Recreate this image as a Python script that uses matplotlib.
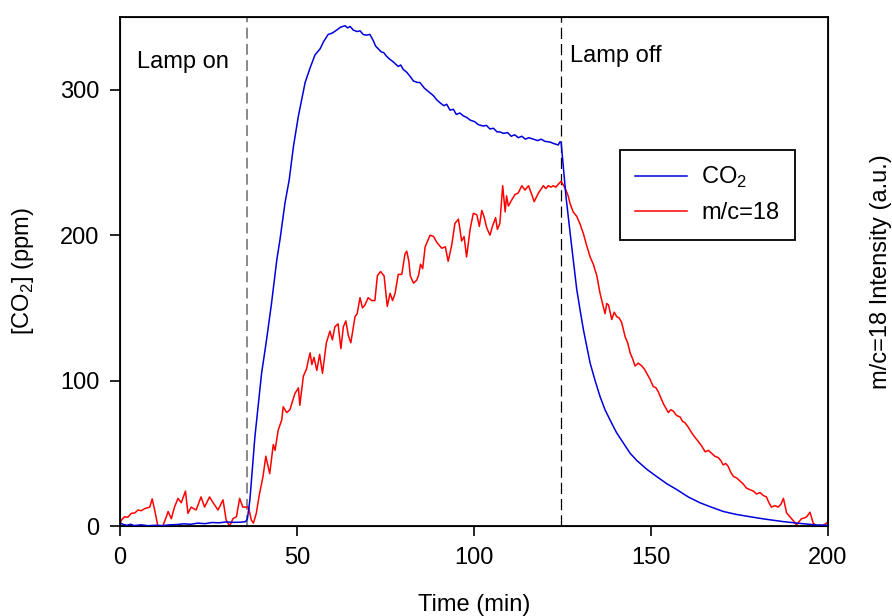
import matplotlib
matplotlib.use("Agg")
import matplotlib.pyplot as plt

plt.rcParams['font.family'] = ['Liberation Sans', 'DejaVu Sans']
plt.rcParams['mathtext.fontset'] = 'custom'
plt.rcParams['mathtext.rm'] = 'Liberation Sans'

# CO2 trace (ppm)
co2_t = [0, 1, 2, 3, 4, 6, 8, 10, 12, 14, 16, 18, 20, 22, 24, 26, 28, 30, 32, 34, 35.5, 36,
         36.7, 38.1, 40.0, 41.4, 42.8, 44.3, 45.2, 46.6, 47.8, 49.0, 50.4, 51.3, 52.3, 53.7,
         55.1, 56.5, 57.5, 58.8, 60.0, 61.2, 62.3, 63.6, 64.3, 65.0, 65.9, 67.0, 67.8, 68.7,
         69.5, 70.6, 71.5, 72.2, 73.0, 73.8, 74.5, 75.3, 76.2, 77.0, 77.7, 78.6, 79.3, 80.0,
         81.0, 82.0, 82.9, 84.0, 84.7, 86.0, 87.5, 88.5, 89.5, 90.4, 91.5, 92.3, 93.2, 94.2,
         95.0, 96.0, 97.0, 97.9, 99.0, 100.2, 101.2, 102.6, 103.5, 104.5, 105.5, 106.5, 107.3,
         108.3, 109.5, 110.5, 111.5, 112.5, 113.5, 114.5, 115.5, 116.8, 118.0, 119.0, 120.0,
         121.5, 122.5, 123.8, 124.2, 124.6, 126.0, 127.6, 129.0, 130.0, 130.9, 132.8, 134.2,
         135.6, 137.0, 138.4, 140.3, 142.2, 144.1, 146.0, 148.8, 151.6, 154.5, 157.3, 160.5,
         163.8, 167.0, 170.4, 174.0, 177.9, 182.0, 187.4, 192.0, 196.8, 200]
co2_v = [2, 1, 0.5, 1.2, 0.3, 0.8, 0.2, 0.5, 0.3, 0.8, 1.0, 1.5, 1.2, 2.0, 1.6, 2.4, 2.2, 2.8, 2.5, 2.6, 3.0, 5,
         18, 61, 105, 128, 153, 183, 197, 222, 238, 261, 282, 293, 305, 315,
         324, 328, 333, 338, 339, 341, 343, 344, 342.5, 343.5, 341, 340, 340.5, 338,
         337.5, 338, 334, 330, 328, 326, 325.5, 323, 321, 319.5, 318, 316, 317, 314,
         312, 309, 306, 305, 305, 301, 298, 296, 293, 291, 289, 290, 286, 286.5,
         283, 284, 282, 281, 279, 278, 276, 275, 275.5, 273, 273.5, 271, 271,
         270, 270.5, 268, 269, 267, 268, 266, 267, 266, 265, 266, 264.5,
         264, 263, 262, 264, 264, 226, 192, 163, 148, 135, 112, 100,
         89, 80, 73, 64, 57, 50, 45, 39, 34, 29, 25, 20,
         16, 13, 10, 8, 6.4, 4.8, 3, 1.8, 0.7, 0.5]

# m/c=18 trace, plotted on the same scale
h2o_t = [0, 0.4, 1.3, 2.2, 3.2, 4.2, 5.1, 6.0, 7.0, 7.7, 8.4, 9.1, 9.8, 10.7, 12.1, 13.1, 13.6,
         14.5, 15.4, 16.4, 17.3, 18.5, 19.2, 20.1, 21.5, 22.9, 23.9, 25.3, 26.3, 27.7, 29.1,
         30.0, 31.0, 31.9, 32.9, 33.8, 34.7, 35.7, 36.3, 37.1, 37.7, 38.5, 39.4, 40.4, 41.2,
         42.3, 43.3, 43.8, 44.7, 45.7, 46.1, 47.1, 48.0, 48.5, 49.4, 50.4, 50.8, 51.8, 52.7,
         53.2, 53.7, 54.2, 54.8, 55.6, 56.4, 57.2, 58.3, 59.3, 60.0, 60.7, 61.6, 62.4, 63.1,
         63.8, 64.5, 65.2, 66.4, 67.0, 67.8, 68.5, 69.2, 70.1, 71.1, 72.0, 72.7, 73.6, 74.6,
         75.5, 76.3, 77.0, 77.7, 78.6, 79.6, 80.5, 81.0, 81.6, 82.0, 82.9, 83.8, 84.3, 84.9,
         85.5, 86.2, 87.6, 88.6, 89.5, 90.9, 91.9, 92.7, 93.7, 94.6, 95.6, 96.5, 97.2, 97.9,
         98.9, 99.8, 100.8, 101.5, 102.2, 102.8, 103.6, 104.5, 105.2, 106.1, 106.6, 107.3,
         108.1, 108.8, 109.2, 109.7, 110.6, 111.6, 112.5, 113.5, 114.4, 115.4, 116.3, 117.0,
         118.2, 119.6, 120.3, 121.0, 121.7, 122.4, 123.1, 123.8, 124.6, 125.6, 126.6, 127.1,
         128.0, 129.0, 129.9, 130.9, 131.8, 132.8, 133.7, 134.7, 135.6, 136.3, 137.0, 137.5,
         138.0, 138.9, 139.6, 140.3, 141.0, 141.7, 142.7, 143.4, 144.1, 144.8, 145.5, 146.4,
         147.4, 148.1, 148.8, 149.7, 150.6, 151.4, 152.1, 152.8, 153.5, 154.2, 154.9, 155.6,
         156.3, 157.2, 158.2, 158.9, 159.6, 160.5, 161.5, 162.4, 163.4, 164.3, 165.3, 166.2,
         167.1, 168.0, 169.0, 169.7, 170.4, 171.1, 171.8, 172.5, 173.3, 174.2, 175.1, 176.0,
         177.0, 177.9, 178.9, 179.8, 180.8, 181.7, 182.6, 183.3, 184.0, 185.0, 185.9, 186.7,
         187.4, 188.3, 189.0, 189.7, 190.4, 191.1, 191.8, 192.5, 193.3, 194.0, 194.9, 195.8,
         196.8, 197.5, 198.2, 199.0, 199.6, 200]
h2o_v = [1, 4, 6.4, 6, 8.7, 9, 11, 10.5, 12, 12.5, 13, 18.6, 11, 0, 0, 6.4, 10,
         5, 13, 19, 16, 24, 8.7, 13, 11, 20, 13, 20, 16, 11, 18,
         4, 0, 5, 6.4, 19, 13, 13, 13, 4, 2, 8.7, 22, 34, 48,
         36, 56, 52, 66, 73, 82, 78, 80, 84, 91, 95, 83, 103, 108,
         114, 119, 111, 116, 107, 118, 105, 126, 134, 128, 137, 139, 122, 137,
         141, 131, 126, 144, 146, 157, 150, 152, 157, 155, 155, 172, 175, 172,
         151, 160, 155, 160, 173, 173, 187, 189, 182, 172, 167, 169, 172, 180,
         177, 192, 200, 199, 195, 191, 192, 182, 193, 208, 211, 196, 199, 185,
         204, 215, 214, 206, 217, 213, 205, 200, 206, 212, 204, 208,
         234, 216, 227, 220, 224, 228, 229, 234, 231, 234, 228, 223,
         229, 234, 232, 234, 233, 234, 233, 235, 237, 233, 227, 222,
         216, 213, 208, 201, 193, 185, 180, 172, 160, 153, 146, 153,
         152, 142, 147, 144, 143, 140, 130, 126, 119, 115, 110, 112,
         110, 108, 105, 101, 96, 95, 92, 88, 84, 81, 78, 80,
         79, 76, 75, 72, 71, 68, 64, 61, 58, 55, 51, 52,
         50, 48, 47, 45, 42, 43, 41, 37, 34, 33, 31, 29,
         26, 25, 24, 22, 23, 21, 20, 16, 13, 14, 13, 15,
         19, 9, 7, 5, 3, 0.7, 3, 5, 5.5, 6.4, 9.5, 2,
         0, 0.5, 0, 1, 2, 3]

lamp_on = 36
lamp_off = 124.5

fig = plt.figure(figsize=(8.92, 6.16), dpi=100)
ax = fig.add_axes([0.1345, 0.1461, 0.7938, 0.8263])

ax.plot(co2_t, co2_v, color='#0000dd', lw=1.1, label='CO$_2$', zorder=3)
ax.plot(h2o_t, h2o_v, color='#ff0000', lw=1.1, label='m/c=18', zorder=2)

ax.axvline(lamp_on, color='#808080', lw=1.3, dashes=(6, 3), zorder=1)
ax.axvline(lamp_off, color='black', lw=0.9, dashes=(9, 4), zorder=1)

ax.text(4.8, 319, 'Lamp on', fontsize=17, va='center', ha='left')
ax.text(127.0, 323, 'Lamp off', fontsize=17, va='center', ha='left')

ax.set_xlim(0, 200)
ax.set_ylim(0, 350)
ax.set_xticks([0, 50, 100, 150, 200])
ax.set_yticks([0, 100, 200, 300])
ax.tick_params(direction='out', length=7, width=1.2, labelsize=17, pad=8)
for s in ax.spines.values():
    s.set_linewidth(1.3)

ax.set_xlabel('Time (min)', fontsize=17, labelpad=18)
ax.set_ylabel('[CO$_2$] (ppm)', fontsize=17, labelpad=17)

ax2 = ax.twinx()
ax2.set_yticks([])
ax2.set_ylabel('m/c=18 Intensity (a.u.)', fontsize=17, labelpad=30)

leg = ax.legend(loc='upper left', bbox_to_anchor=(0.706, 0.739), fontsize=17,
                frameon=True, fancybox=False, framealpha=1, edgecolor='black',
                handlelength=2.2, handletextpad=0.6, borderpad=0.65,
                labelspacing=0.5, borderaxespad=0)
leg.get_frame().set_linewidth(1.3)

fig.savefig('out.png', dpi=100)
